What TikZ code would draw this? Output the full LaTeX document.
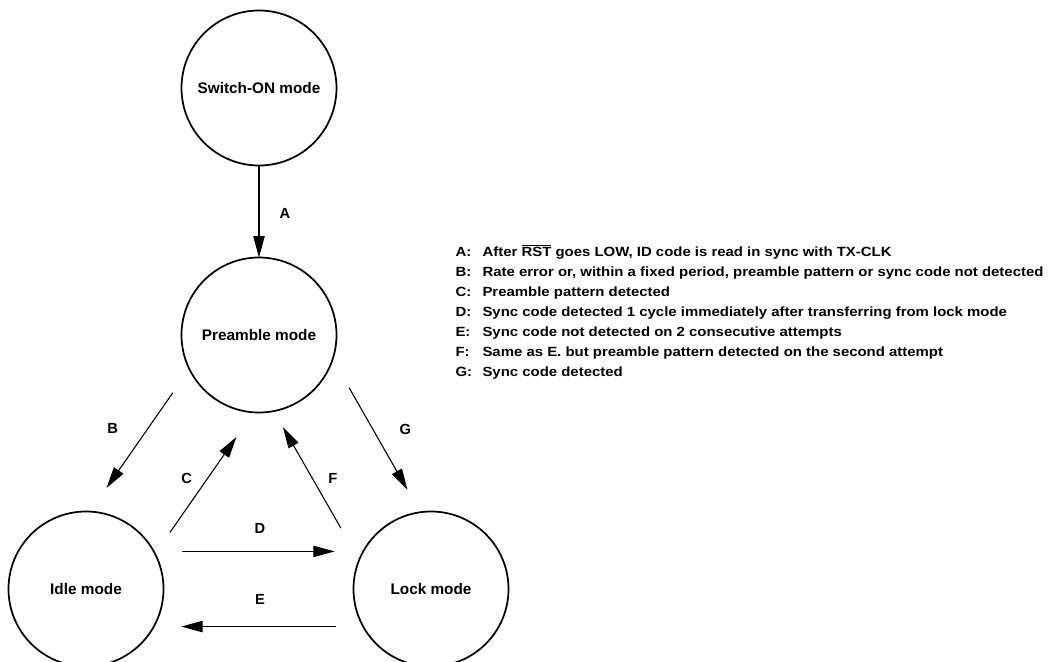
\documentclass[tikz,border=0pt]{standalone}
\usepackage{amsmath}
\usepackage{fontspec}
\setmainfont{Liberation Sans}
\newfontfamily\widefont{Liberation Sans}[FakeStretch=1.12]
\usetikzlibrary{arrows.meta,positioning}

\begin{document}
\begin{tikzpicture}[x=0.75pt, y=-0.75pt, on grid, line width=0.8pt,
	mode/.style={draw, circle, line width=1.3pt, minimum size=116.25pt, inner sep=0pt, outer sep=0pt,
		font=\fontsize{11.5}{13}\selectfont\bfseries},
	tag/.style={font=\fontsize{11}{13}\selectfont\bfseries},
	>={Triangle[length=16pt,width=8.5pt]}]
	\useasboundingbox (0,0) rectangle (1049,661);

	\node[mode] (sw) at (259,88) {Switch-ON mode};
	\node[mode] (pre) [below=185.25pt of sw] {Preamble mode};
	\node[mode] (idle) [below left=190.5pt and 129.75pt of pre] {Idle mode};
	\node[mode] (lock) [right=258.75pt of idle] {Lock mode};

	\path[->]
		(sw) edge node[tag, shift={(26,1.5)}] {A} (pre)
		(pre.206) edge[shorten <=21.7pt, shorten >=21.6pt] node[tag, shift={(-27,-11.5)}] {B} (idle.87)
		(idle.27) edge[shorten <=19.5pt, shorten >=22.5pt] node[tag, shift={(-17.7,-4.3)}] {C} (pre.266)
		(idle.29) edge[shorten <=21.4pt, shorten >=21.4pt] node[tag, shift={(1.5,-23)}] {D} (lock.151)
		(lock.209) edge[shorten <=20.6pt, shorten >=20.6pt] node[tag, shift={(1.5,-27)}] {E} (idle.331)
		(lock.158) edge[shorten <=27.5pt, shorten >=13.8pt] node[tag, shift={(16.5,-7.4)}] {F} (pre.281)
		(pre.342) edge[shorten <=24.8pt, shorten >=19.3pt] node[tag, shift={(28.8,-5.8)}] {G} (lock.98);

	% legend
	\node[anchor=west, inner sep=0pt, font=\widefont\fontsize{10}{15}\selectfont\bfseries] (key) at (455,312) {%
		\begin{tabular}{@{}p{20.25pt}@{}l@{}}
			A: & After $\overline{\text{RST}}$ goes LOW, ID code is read in sync with TX-CLK\\
			B: & Rate error or, within a fixed period, preamble pattern or sync code not detected\\
			C: & Preamble pattern detected\\
			D: & Sync code detected 1 cycle immediately after transferring from lock mode\\
			E: & Sync code not detected on 2 consecutive attempts\\
			F: & Same as E. but preamble pattern detected on the second attempt\\
			G: & Sync code detected
		\end{tabular}};
\end{tikzpicture}
\end{document}
